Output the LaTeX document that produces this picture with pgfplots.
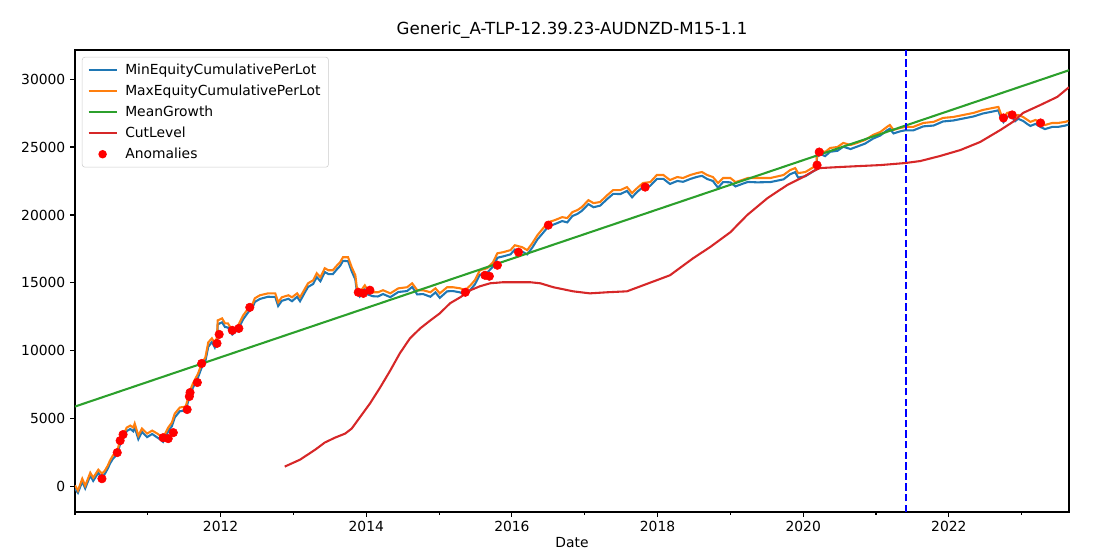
\documentclass[border=0pt]{standalone}
\usepackage{pgfplots}
\pgfplotsset{compat=1.18}
\usepackage{pgfplotstable}
\usepackage{fontspec}
\setmainfont{DejaVu Sans}
\definecolor{tabblue}{HTML}{1F77B4}
\definecolor{taborange}{HTML}{FF7F0E}
\definecolor{tabgreen}{HTML}{2CA02C}
\definecolor{tabred}{HTML}{D62728}

\pgfplotstableread{
year max min
2010.00 100 -150
2010.04 -290 -450
2010.10 590 380
2010.14 70 -120
2010.21 1030 820
2010.25 660 430
2010.32 1250 1020
2010.37 960 640
2010.41 1180 950
2010.45 1550 1330
2010.48 1920 1700
2010.52 2290 2050
2010.58 2660 2400
2010.62 3390 3150
2010.66 3760 3500
2010.71 4350 4100
2010.76 4500 4250
2010.80 4350 4080
2010.82 4650 4380
2010.87 3760 3500
2010.92 4280 4030
2010.99 3910 3650
2011.06 4130 3880
2011.13 3910 3620
2011.17 3760 3480
2011.21 3610 3300
2011.28 4350 4080
2011.33 4720 4450
2011.37 5380 5100
2011.44 5830 5560
2011.52 5900 5600
2011.58 7080 6800
2011.62 7600 7300
2011.69 8330 8050
2011.74 9070 8780
2011.79 9510 9230
2011.83 10620 10300
2011.88 10920 10650
2011.92 10550 10250
2011.95 10990 10700
2011.96 12240 11950
2012.02 12390 12100
2012.06 12020 11750
2012.10 12020 11720
2012.16 11510 11200
2012.20 11650 11380
2012.24 11870 11600
2012.31 12610 12330
2012.38 13130 12850
2012.43 13350 13080
2012.47 13870 13600
2012.54 14090 13820
2012.65 14230 13980
2012.75 14230 13970
2012.79 13570 13300
2012.84 13940 13680
2012.93 14090 13830
2012.98 13940 13650
2013.05 14230 13980
2013.09 13940 13650
2013.16 14600 14330
2013.20 14970 14700
2013.27 15190 14920
2013.32 15710 15430
2013.37 15410 15120
2013.43 16080 15800
2013.48 15930 15650
2013.54 15930 15640
2013.60 16300 16020
2013.64 16520 16250
2013.68 16890 16620
2013.75 16890 16600
2013.80 16150 15850
2013.85 15560 15250
2013.87 14680 14380
2013.91 14310 14000
2013.98 14820 14520
2014.02 14460 14150
2014.09 14310 14020
2014.16 14310 14000
2014.23 14460 14180
2014.33 14230 13950
2014.44 14600 14330
2014.56 14680 14400
2014.63 14970 14700
2014.70 14460 14150
2014.78 14460 14180
2014.88 14310 13980
2014.95 14600 14300
2015.01 14230 13900
2015.11 14680 14380
2015.19 14680 14400
2015.29 14600 14300
2015.36 14460 14120
2015.43 14820 14500
2015.49 15190 14880
2015.56 15930 15600
2015.66 16080 15750
2015.74 16520 16200
2015.80 17180 16850
2015.88 17260 16950
2015.98 17410 17100
2016.04 17770 17450
2016.14 17630 17300
2016.21 17410 17100
2016.28 17920 17600
2016.35 18510 18200
2016.43 19030 18700
2016.50 19470 19150
2016.59 19620 19330
2016.69 19840 19550
2016.76 19770 19450
2016.83 20210 19920
2016.90 20360 20080
2016.96 20580 20300
2017.05 21090 20800
2017.12 20870 20570
2017.21 20950 20680
2017.31 21460 21180
2017.39 21830 21550
2017.49 21830 21540
2017.58 22050 21770
2017.65 21610 21300
2017.72 21980 21700
2017.80 22350 22050
2017.90 22420 22150
2017.99 22940 22650
2018.08 22940 22660
2018.17 22570 22280
2018.27 22790 22500
2018.35 22720 22440
2018.45 22940 22650
2018.54 23080 22800
2018.61 23160 22880
2018.68 22940 22650
2018.76 22790 22500
2018.83 22350 22000
2018.90 22720 22420
2019.00 22720 22400
2019.07 22420 22100
2019.16 22570 22280
2019.24 22720 22430
2019.37 22720 22400
2019.55 22720 22420
2019.73 22940 22620
2019.82 23300 23000
2019.89 23450 23150
2019.93 23080 22750
2020.03 23160 22850
2020.12 23450 23150
2020.18 23670 23350
2020.19 24560 24280
2020.23 24780 24500
2020.30 24630 24330
2020.37 24930 24650
2020.47 25000 24720
2020.55 25300 25020
2020.65 25150 24850
2020.74 25300 25030
2020.85 25520 25250
2020.96 25890 25620
2021.06 26110 25850
2021.15 26480 26220
2021.19 26620 26350
2021.24 26260 26000
2021.33 26400 26150
2021.40 26480 26230
2021.51 26480 26220
2021.65 26770 26520
2021.79 26850 26580
2021.92 27140 26880
2022.06 27210 26950
2022.20 27360 27100
2022.34 27510 27250
2022.47 27730 27470
2022.61 27880 27620
2022.68 27950 27700
2022.72 27360 27050
2022.75 27140 26830
2022.80 27510 27230
2022.86 27580 27300
2022.91 27210 26900
2022.95 27360 27080
2023.02 27210 26920
2023.08 26990 26680
2023.12 26850 26550
2023.19 26990 26700
2023.26 26770 26470
2023.32 26620 26320
2023.42 26770 26480
2023.50 26770 26480
2023.60 26850 26580
2023.64 26920 26650
}\eq

\pgfplotstableread{
year cut
2012.88 1480
2013.09 1990
2013.30 2730
2013.43 3250
2013.57 3610
2013.71 3910
2013.80 4280
2013.91 5090
2014.05 6120
2014.19 7300
2014.33 8560
2014.46 9810
2014.60 10920
2014.74 11650
2014.88 12240
2015.01 12760
2015.15 13500
2015.29 13940
2015.43 14460
2015.56 14750
2015.70 14970
2015.88 15050
2016.07 15050
2016.25 15050
2016.39 14970
2016.57 14680
2016.84 14380
2017.07 14230
2017.31 14310
2017.58 14380
2017.80 14820
2018.17 15560
2018.49 16820
2018.72 17630
2019.00 18730
2019.23 19990
2019.51 21240
2019.78 22200
2020.00 22790
2020.14 23230
2020.23 23450
2020.51 23530
2020.78 23600
2021.06 23670
2021.40 23820
2021.61 23970
2021.88 24340
2022.16 24780
2022.43 25370
2022.71 26260
2022.88 26850
2023.02 27510
2023.26 28100
2023.49 28690
2023.65 29400
}\cut

\pgfplotstableread{
year val
2010.37 590
2010.58 2510
2010.62 3390
2010.66 3840
2011.21 3610
2011.28 3540
2011.35 3980
2011.54 5680
2011.57 6640
2011.58 6930
2011.68 7670
2011.74 9070
2011.95 10550
2011.98 11210
2012.16 11510
2012.25 11650
2012.40 13200
2013.89 14310
2013.96 14230
2014.05 14460
2015.36 14310
2015.63 15560
2015.69 15490
2015.80 16300
2016.09 17260
2016.50 19250
2017.83 22050
2020.19 23670
2020.22 24630
2022.75 27140
2022.87 27360
2023.26 26770
}\anom

\begin{document}
\fontsize{10.4}{12.5}\selectfont
\begin{tikzpicture}
\begin{axis}[
  scale only axis,
  width=745.5pt, height=346.5pt,
  xmin=2010, xmax=2023.65,
  ymin=-1860, ymax=32140,
  xtick={2012,2014,2016,2018,2020,2022},
  minor xtick={2010,2011,2013,2015,2017,2019,2021,2023},
  ytick={0,5000,10000,15000,20000,25000,30000},
  scaled ticks=false,
  tick pos=left,
  tick align=outside,
  major tick length=3.6pt,
  minor tick length=2.1pt,
  every tick/.style={black, line width=0.83pt},
  axis line style={line width=0.83pt},
  /pgf/number format/1000 sep={},
  /pgf/number format/assume math mode=true,
  ticklabel style={font=\fontsize{10.4}{12.5}\selectfont},
  xlabel={Date},
  xlabel style={font=\fontsize{10.4}{12.5}\selectfont, yshift=3pt},
  title={Generic\_A-TLP-12.39.23-AUDNZD-M15-1.1},
  title style={font=\fontsize{12.5}{15}\selectfont, yshift=-1pt},
  legend cell align=left,
  legend style={at={(rel axis cs:0.007,0.985)}, anchor=north west,
    draw=black!20, rounded corners=2pt, fill=white, fill opacity=0.8, text opacity=1, draw opacity=1,
    font=\fontsize{10.4}{12.5}\selectfont, row sep=2.3pt, inner xsep=4pt, inner ysep=3pt},
  legend image code/.code={\draw[#1] (0pt,0pt) -- (21pt,0pt); \path[draw=none, fill=none] (0pt,0pt) rectangle (25.5pt,0.1pt);},
]
\addplot[tabblue, line width=1.56pt] table[x=year, y=min] {\eq};
\addlegendentry{MinEquityCumulativePerLot}
\addplot[taborange, line width=1.56pt] table[x=year, y=max] {\eq};
\addlegendentry{MaxEquityCumulativePerLot}
\addplot[tabgreen, line width=1.56pt] coordinates {(2010,5900) (2023.65,30650)};
\addlegendentry{MeanGrowth}
\addplot[tabred, line width=1.56pt] table[x=year, y=cut] {\cut};
\addlegendentry{CutLevel}
\addplot[only marks, mark=*, mark size=3.2pt, color=red,
  legend image code/.code={\fill[red, fill opacity=1, draw=none] (10.5pt,0pt) circle (3.2pt); \path[draw=none, fill=none] (0pt,0pt) rectangle (25.5pt,0.1pt);}] table[x=year, y=val] {\anom};
\addlegendentry{Anomalies}
\addplot[blue, line width=1.56pt, dash pattern=on 5.55pt off 2.4pt, forget plot] coordinates {(2021.41,-1860) (2021.41,32140)};
\end{axis}
\path (current axis.south west) ++(-56.25pt,-34.5pt) coordinate (bl);
\path (current axis.north east) ++(18pt,37.5pt) coordinate (tr);
\path (bl) rectangle (tr);
\end{tikzpicture}
\end{document}
